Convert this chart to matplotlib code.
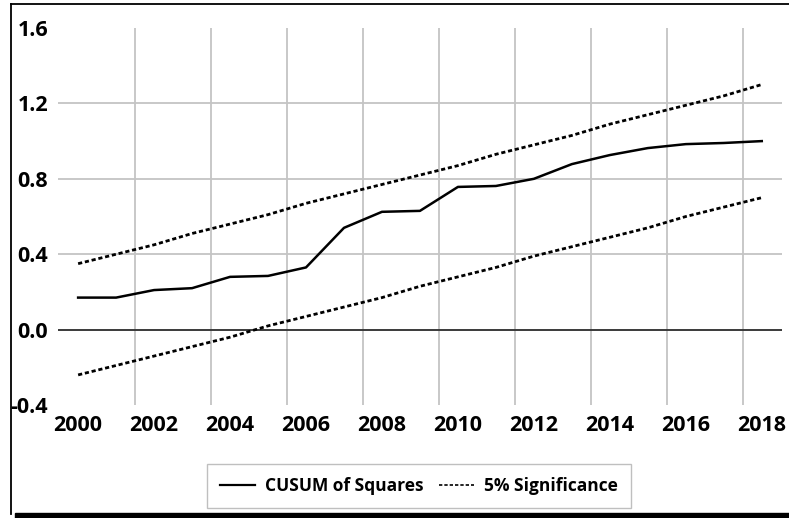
import matplotlib.pyplot as plt
from matplotlib.lines import Line2D
from matplotlib.patches import Rectangle

years = list(range(2000, 2019))
cusum_sq = [0.17, 0.17, 0.21, 0.22, 0.28, 0.285, 0.33, 0.54, 0.625, 0.63,
            0.757, 0.762, 0.80, 0.878, 0.926, 0.963, 0.984, 0.99, 1.0]
upper = [0.35, 0.40, 0.45, 0.51, 0.56, 0.61, 0.67, 0.72, 0.77, 0.82,
         0.87, 0.93, 0.98, 1.03, 1.09, 1.14, 1.19, 1.24, 1.30]
lower = [-0.24, -0.19, -0.14, -0.09, -0.04, 0.02, 0.07, 0.12, 0.17, 0.23,
         0.28, 0.33, 0.39, 0.44, 0.49, 0.54, 0.60, 0.65, 0.70]
xticks = list(range(2000, 2019, 2))
yticks = [-0.4, 0.0, 0.4, 0.8, 1.2, 1.6]

plt.rcParams['font.family'] = ['Open Sans', 'DejaVu Sans']

fig = plt.figure(figsize=(7.89, 5.18), dpi=100)
ax = fig.add_axes([0.0735, 0.218, 0.9175, 0.728])

# grid: vertical lines sit between the labelled years
for x in range(2001, 2018, 2):
    ax.axvline(x + 0.5, color='#c4c4c4', lw=1.3, zorder=1)
for y in [0.4, 0.8, 1.2]:
    ax.axhline(y, color='#c4c4c4', lw=1.3, zorder=1)
ax.axhline(0.0, color='#3a3a3a', lw=1.4, zorder=1)

ax.plot(years, cusum_sq, color='black', lw=1.8, zorder=3)
ax.plot(years, upper, color='black', lw=2.0, ls=(0, (1.5, 1.0)), zorder=3)
ax.plot(years, lower, color='black', lw=2.0, ls=(0, (1.5, 1.0)), zorder=3)

ax.set_xlim(1999.47, 2018.53)
ax.set_ylim(-0.4, 1.6)
ax.set_xticks(xticks)
ax.set_yticks(yticks)
ax.set_yticklabels(['%.1f' % v for v in yticks])
ax.tick_params(length=0, labelsize=15.5, pad=7)
for lab in ax.get_xticklabels() + ax.get_yticklabels():
    lab.set_fontweight('bold')
for s in ax.spines.values():
    s.set_visible(False)

handles = [Line2D([], [], color='black', lw=1.6),
           Line2D([], [], color='black', lw=1.2, ls=(0, (2.0, 1.2)))]
leg = fig.legend(handles, ['CUSUM of Squares', '5% Significance'],
                 loc='center', bbox_to_anchor=(0.531, 0.062), ncol=2,
                 fancybox=False, edgecolor='#b0b0b0', handlelength=2.0,
                 columnspacing=0.9, handletextpad=0.6, borderpad=0.75,
                 prop={'size': 12.5, 'weight': 'bold'})
leg.get_frame().set_linewidth(1.0)

# outer frame of the picture
fig.add_artist(Line2D([0.014, 1.0], [0.992, 0.992], color='black', lw=1.3,
                      transform=fig.transFigure))
fig.add_artist(Line2D([0.014, 0.014], [0.008, 0.992], color='black', lw=1.3,
                      transform=fig.transFigure))
fig.add_artist(Rectangle((0.019, 0.0), 0.981, 0.009, color='black',
                         transform=fig.transFigure))

fig.savefig('out.png', dpi=100)
